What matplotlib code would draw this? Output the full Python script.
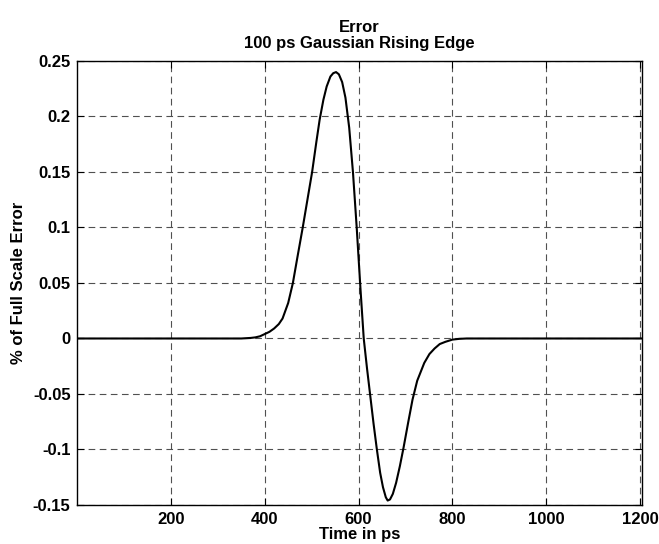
import numpy as np
import matplotlib
matplotlib.use("Agg")
from matplotlib import pyplot as plt

# values (time in ps, % of full scale error)
t_ps = [1, 100, 200, 300, 350, 370, 380, 390, 400, 410, 420, 430, 438, 450, 460,
        470, 481, 491, 501, 510, 517, 525, 532, 540, 546, 552, 558, 565, 572,
        580, 588, 596, 604, 611, 618, 625, 632, 639, 646, 652, 658, 662, 667,
        673, 680, 688, 696, 706, 715, 725, 740, 751, 762, 773, 785, 800, 815,
        830, 900, 1000, 1100, 1204]
err = [0, 0, 0, 0, 0, 0.0005, 0.001, 0.002, 0.004, 0.006, 0.009, 0.013, 0.018, 0.032, 0.05,
       0.074, 0.1, 0.125, 0.15, 0.177, 0.197, 0.215, 0.227, 0.236, 0.239, 0.24, 0.238, 0.231, 0.217,
       0.19, 0.15, 0.1, 0.045, 0.0, -0.027, -0.052, -0.077, -0.1, -0.121, -0.134, -0.143, -0.146, -0.145,
       -0.14, -0.13, -0.115, -0.098, -0.075, -0.055, -0.038, -0.022, -0.014, -0.009, -0.005, -0.003, -0.001, -0.0003,
       0, 0, 0, 0, 0]

x_ticks = [200, 400, 600, 800, 1000, 1200]
y_ticks = [-0.15, -0.1, -0.05, 0, 0.05, 0.1, 0.15, 0.2, 0.25]
y_labels = ["-0.15", "-0.1", "-0.05", "0", "0.05", "0.1", "0.15", "0.2", "0.25"]

plt.rcParams['font.family'] = ['Liberation Sans', 'DejaVu Sans']
plt.rcParams['font.weight'] = 'bold'
plt.rcParams['font.size'] = 12

fig = plt.figure(figsize=(6.59, 5.44), dpi=100)
ax = fig.add_axes([0.1176, 0.0717, 0.8566, 0.8162])

ax.plot(t_ps, err, color='black', lw=1.5)

ax.set_xlim(1, 1204)
ax.set_ylim(-0.15, 0.25)
ax.set_xticks(x_ticks)
ax.set_xticklabels([str(v) for v in x_ticks])
ax.set_yticks(y_ticks)
ax.set_yticklabels(y_labels)
ax.tick_params(direction='in', length=5, width=0.8, top=True, right=True, pad=5)
ax.grid(True, color='#505050', linestyle=(0, (6, 4)), lw=0.8)
for s in ax.spines.values():
    s.set_linewidth(1.0)

ax.set_title("Error\n100 ps Gaussian Rising Edge", fontweight='bold', fontsize=12, pad=9,
             linespacing=1.1)
ax.set_xlabel("Time in ps", fontweight='bold', labelpad=0)
ax.set_ylabel("% of Full Scale Error", fontweight='bold', labelpad=5)

fig.savefig("out.png", dpi=100)
